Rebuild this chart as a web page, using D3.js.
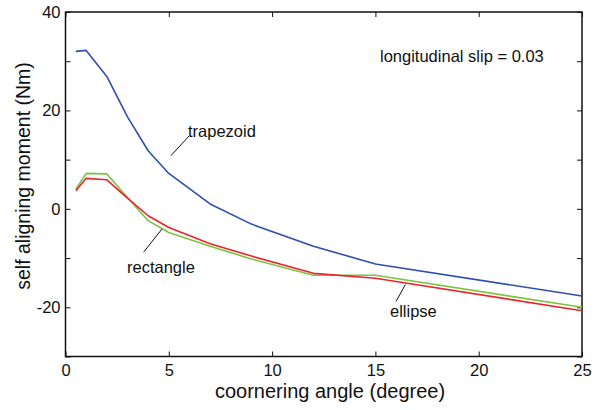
<!DOCTYPE html>
<html>
<head>
<meta charset="utf-8">
<script src="https://cdn.jsdelivr.net/npm/d3@7"></script>
<style>
  html, body { margin: 0; padding: 0; background: #fff; }
  svg { display: block; font-family: "Liberation Sans", Arial, sans-serif; }
</style>
</head>
<body>
<svg id="chart" width="596" height="410"></svg>
<script>
// Cornering angle (degree) at which each model was evaluated
const angles = [0.5, 1, 2, 3, 4, 5, 7, 9, 12, 15, 25];

// Self aligning moment (Nm) per contact-patch shape
const trapezoid = [32.0, 32.2, 26.9, 18.7, 11.8, 7.2, 1.0, -3.1, -7.6, -11.2, -17.7];
const rectangle = [3.7, 6.2, 5.9, 2.2, -1.4, -3.8, -7.1, -9.6, -13.1, -14.1, -20.7];
const ellipse   = [4.0, 7.2, 7.1, 2.3, -2.4, -4.8, -7.6, -10.2, -13.5, -13.5, -20.0];

const xTicks = [0, 5, 10, 15, 20, 25];
const yTicks = [-30, -20, -10, 0, 10, 20, 30, 40];
const yTickLabels = [-20, 0, 20, 40];

const series = [
  { name: "trapezoid", values: trapezoid, color: "#2f4fb0" },
  { name: "ellipse",   values: ellipse,   color: "#7dc242" },
  { name: "rectangle", values: rectangle, color: "#e8262b" }
];

const svg = d3.select("#chart");
const plotLeft = 65.5, plotRight = 582, plotTop = 12, plotBottom = 356.5;

const x = d3.scaleLinear().domain([0, 25]).range([plotLeft, plotRight]);
const y = d3.scaleLinear().domain([-30, 40]).range([plotBottom, plotTop]);

const tickLen = 5;
const axisColor = "#111";

// Plot box
svg.append("rect")
  .attr("x", plotLeft).attr("y", plotTop)
  .attr("width", plotRight - plotLeft).attr("height", plotBottom - plotTop)
  .attr("fill", "none").attr("stroke", axisColor).attr("stroke-width", 1.5);

// Axes with inward ticks on all four sides; only every other y tick is labelled
const fmt = d => yTickLabels.includes(d) ? String(d) : "";

const gBottom = svg.append("g").attr("transform", `translate(0,${plotBottom})`)
  .call(d3.axisBottom(x).tickValues(xTicks).tickSizeInner(-tickLen).tickSizeOuter(0).tickPadding(8));
const gTop = svg.append("g").attr("transform", `translate(0,${plotTop})`)
  .call(d3.axisTop(x).tickValues(xTicks).tickSizeInner(-tickLen).tickSizeOuter(0).tickFormat(""));
const gLeft = svg.append("g").attr("transform", `translate(${plotLeft},0)`)
  .call(d3.axisLeft(y).tickValues(yTicks).tickSizeInner(-tickLen).tickSizeOuter(0).tickPadding(5).tickFormat(fmt));
const gRight = svg.append("g").attr("transform", `translate(${plotRight},0)`)
  .call(d3.axisRight(y).tickValues(yTicks).tickSizeInner(-tickLen).tickSizeOuter(0).tickFormat(""));

[gBottom, gTop, gLeft, gRight].forEach(g => {
  g.select(".domain").remove();
  g.selectAll(".tick line").attr("stroke", axisColor).attr("stroke-width", 1);
  g.selectAll(".tick text")
    .attr("fill", "#111")
    .style("font-family", "'Liberation Sans', Arial, sans-serif")
    .style("font-size", "16.5px");
});
gBottom.selectAll(".tick text").attr("dy", "0.71em").attr("y", 8);

// Series lines
const line = d3.line().x((d, i) => x(angles[i])).y(d => y(d));
series.forEach(s => {
  svg.append("path")
    .datum(s.values)
    .attr("d", line)
    .attr("fill", "none")
    .attr("stroke", s.color)
    .attr("stroke-width", 1.6)
    .attr("stroke-linejoin", "round");
});

// Annotations: label text with a short leader toward each curve
const labels = [
  { text: "trapezoid", tx: 188, ty: 137, from: [x(5.1), y(10.8)], to: [x(5.98), y(14.8)] },
  { text: "rectangle", tx: 127, ty: 273, from: [x(3.78), y(-8.8)], to: [x(4.67), y(-4.1)] },
  { text: "ellipse",   tx: 390, ty: 317, from: [x(16.0), y(-18.8)], to: [x(16.45), y(-15.4)] }
];
labels.forEach(l => {
  svg.append("line")
    .attr("x1", l.from[0]).attr("y1", l.from[1])
    .attr("x2", l.to[0]).attr("y2", l.to[1])
    .attr("stroke", "#111").attr("stroke-width", 1);
  svg.append("text")
    .attr("x", l.tx).attr("y", l.ty)
    .attr("fill", "#111")
    .style("font-size", "16.5px")
    .text(l.text);
});

svg.append("text")
  .attr("x", 380).attr("y", 62)
  .attr("fill", "#111")
  .style("font-size", "16.5px")
  .text("longitudinal slip = 0.03");

// Axis titles
svg.append("text")
  .attr("x", 330).attr("y", 397.5)
  .attr("text-anchor", "middle")
  .attr("fill", "#111")
  .style("font-size", "20px")
  .text("coornering angle (degree)");

svg.append("text")
  .attr("transform", `translate(29.5,176) rotate(-90)`)
  .attr("text-anchor", "middle")
  .attr("fill", "#111")
  .style("font-size", "19.5px")
  .text("self aligning moment (Nm)");
</script>
</body>
</html>
